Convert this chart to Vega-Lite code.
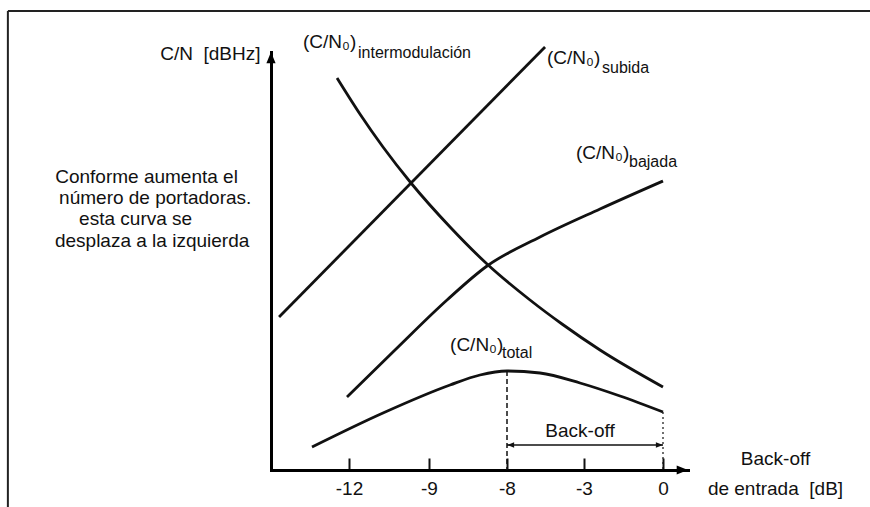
{
  "$schema": "https://vega.github.io/schema/vega-lite/v6.json",
  "width": 417,
  "height": 418,
  "autosize": {"type": "none"},
  "padding": {"left": 271, "top": 52, "right": 182, "bottom": 37},
  "background": "white",
  "config": {"view": {"stroke": null}, "font": "Liberation Sans"},
  "datasets": {
    "curves": [
      {"curve": "subida", "x": -14.69, "y": 15.3},
      {"curve": "subida", "x": -5.53, "y": 42.3},
      {"curve": "intermodulacion", "x": -12.46, "y": 39.2},
      {"curve": "intermodulacion", "x": -11.59, "y": 35.6},
      {"curve": "intermodulacion", "x": -10.725, "y": 32.3},
      {"curve": "intermodulacion", "x": -9.675, "y": 28.7},
      {"curve": "intermodulacion", "x": -8.73, "y": 24.3},
      {"curve": "intermodulacion", "x": -8.256, "y": 20.6},
      {"curve": "intermodulacion", "x": -6.506, "y": 17.0},
      {"curve": "intermodulacion", "x": -4.429, "y": 14.6},
      {"curve": "intermodulacion", "x": -2.392, "y": 12.0},
      {"curve": "intermodulacion", "x": 0, "y": 8.3},
      {"curve": "bajada", "x": -12.077, "y": 7.3},
      {"curve": "bajada", "x": -10.275, "y": 12.0},
      {"curve": "bajada", "x": -8.769, "y": 17.0},
      {"curve": "bajada", "x": -8.256, "y": 20.4},
      {"curve": "bajada", "x": -5.857, "y": 23.3},
      {"curve": "bajada", "x": -2.392, "y": 26.1},
      {"curve": "bajada", "x": 0, "y": 28.9},
      {"curve": "total", "x": -13.423, "y": 2.3},
      {"curve": "total", "x": -10.725, "y": 5.7},
      {"curve": "total", "x": -8.73, "y": 8.5},
      {"curve": "total", "x": -8.346, "y": 9.5},
      {"curve": "total", "x": -8, "y": 9.9},
      {"curve": "total", "x": -5.857, "y": 9.7},
      {"curve": "total", "x": -3.26, "y": 8.7},
      {"curve": "total", "x": -1.633, "y": 7.4},
      {"curve": "total", "x": 0, "y": 5.8}
    ],
    "labels": [
      {"text": "(C/N₀)", "x": -13.77, "y": 42.8},
      {"text": "(C/N₀)", "x": -5.4, "y": 41.2},
      {"text": "(C/N₀)", "x": -3.52, "y": 31.7},
      {"text": "(C/N₀)", "x": -8.73, "y": 12.5}
    ],
    "subs": [
      {"text": "intermodulación", "x": -11.66, "y": 41.7},
      {"text": "subida", "x": -2.316, "y": 40.2},
      {"text": "bajada", "x": -1.291, "y": 30.8},
      {"text": "total", "x": -8.064, "y": 11.7}
    ],
    "note": [
      {"text": "Conforme aumenta el", "x": -23.3, "y": 29.3},
      {"text": "número de portadoras.", "x": -23.15, "y": 27.2},
      {"text": "esta curva se", "x": -22.38, "y": 25.1},
      {"text": "desplaza a la izquierda", "x": -23.31, "y": 22.9}
    ]
  },
  "encoding": {
    "x": {
      "field": "x",
      "type": "quantitative",
      "scale": {"domain": [-15, -12, -9, -8, -3, 0, 1], "range": [0, 78, 158, 236, 313, 392, 417], "nice": false, "zero": false},
      "axis": {
        "values": [-12, -9, -8, -3, 0],
        "labelExpr": "'' + datum.value",
        "ticks": true,
        "tickSize": -12,
        "tickWidth": 2,
        "tickColor": "#111",
        "grid": false,
        "domainColor": "#000",
        "domainWidth": 3,
        "domainCap": "square",
        "labelFontSize": 19,
        "labelColor": "#111",
        "labelPadding": 21,
        "labelFlush": false,
        "labelOverlap": false,
        "title": ["Back-off", "de entrada\u00a0\u00a0[dB]"],
        "titleFontSize": 19,
        "titleFontWeight": "normal",
        "titleColor": "#111",
        "titleAlign": "center",
        "titleAngle": 0,
        "titleX": 504,
        "titleY": -6,
        "titleBaseline": "alphabetic",
        "titleLineHeight": 30
      }
    },
    "y": {
      "field": "y",
      "type": "quantitative",
      "scale": {"domain": [0, 41.8], "nice": false, "zero": false},
      "axis": {
        "ticks": false,
        "labels": false,
        "grid": false,
        "domainColor": "#000",
        "domainWidth": 3,
        "domainCap": "square",
        "title": "C/N\u00a0\u00a0[dBHz]",
        "titleAngle": 0,
        "titleAlign": "right",
        "titleBaseline": "middle",
        "titleX": -11,
        "titleY": 1,
        "titleFontSize": 19,
        "titleFontWeight": "normal",
        "titleColor": "#111"
      }
    }
  },
  "layer": [
    {
      "data": {"name": "curves"},
      "mark": {"type": "line", "interpolate": "monotone", "strokeWidth": 2.8, "color": "#111"},
      "encoding": {"detail": {"field": "curve", "type": "nominal"}}
    },
    {
      "data": {"values": [{"x": -8, "y": 9.9}]},
      "mark": {"type": "rule", "strokeWidth": 1.5, "color": "#111", "strokeDash": [5, 3]},
      "encoding": {"y2": {"datum": 0}}
    },
    {
      "data": {"values": [{"x": 0, "y": 5.8}]},
      "mark": {"type": "rule", "strokeWidth": 1.2, "color": "#111", "strokeDash": [2, 3]},
      "encoding": {"y2": {"datum": 0}}
    },
    {
      "data": {"values": [{"x": -8, "x2": 0, "y": 2.5}]},
      "mark": {"type": "rule", "strokeWidth": 1.5, "color": "#111"},
      "encoding": {"x2": {"field": "x2"}}
    },
    {
      "data": {"values": [{"x": -8, "y": 2.5}]},
      "mark": {"type": "point", "filled": true, "color": "#111", "opacity": 1, "size": 80, "shape": "M0,0 L1.6,-0.6 L1.6,0.6 Z"},
      "encoding": {}
    },
    {
      "data": {"values": [{"x": 0, "y": 2.5}]},
      "mark": {"type": "point", "filled": true, "color": "#111", "opacity": 1, "size": 80, "shape": "M0,0 L-1.6,-0.6 L-1.6,0.6 Z"},
      "encoding": {}
    },
    {
      "data": {"values": [{"x": 1, "y": 0}]},
      "mark": {"type": "point", "filled": true, "color": "#000", "opacity": 1, "size": 200, "shape": "M0,0 L-1.6,-0.65 L-1.6,0.65 Z"},
      "encoding": {}
    },
    {
      "data": {"values": [{"x": -15, "y": 41.8}]},
      "mark": {"type": "point", "filled": true, "color": "#000", "opacity": 1, "size": 200, "shape": "M0,0 L-0.65,1.6 L0.65,1.6 Z"},
      "encoding": {}
    },
    {
      "data": {"values": [{"x": -3.26, "y": 3.9, "text": "Back-off"}]},
      "mark": {"type": "text", "fontSize": 19, "color": "#111", "align": "center", "baseline": "middle"},
      "encoding": {"text": {"field": "text"}}
    },
    {
      "data": {"name": "labels"},
      "mark": {"type": "text", "fontSize": 19, "color": "#111", "align": "left", "baseline": "middle"},
      "encoding": {"text": {"field": "text"}}
    },
    {
      "data": {"name": "subs"},
      "mark": {"type": "text", "fontSize": 16, "color": "#111", "align": "left", "baseline": "middle"},
      "encoding": {"text": {"field": "text"}}
    },
    {
      "data": {"name": "note"},
      "mark": {"type": "text", "fontSize": 19, "color": "#111", "align": "left", "baseline": "middle"},
      "encoding": {"text": {"field": "text"}}
    },
    {
      "data": {"values": [{"x": -25.12, "y": 45.9}]},
      "mark": {"type": "rule", "strokeWidth": 2, "color": "#222"},
      "encoding": {"x2": {"datum": 8.3}}
    },
    {
      "data": {"values": [{"x": -25.12, "y": 45.9}]},
      "mark": {"type": "rule", "strokeWidth": 2, "color": "#222"},
      "encoding": {"y2": {"datum": -3.8}}
    }
  ]
}
